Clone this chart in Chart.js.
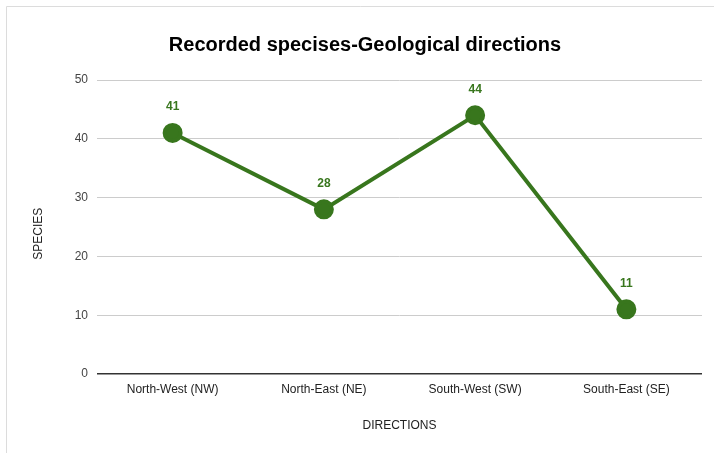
<!DOCTYPE html>
<html>
<head>
<meta charset="utf-8">
<script src="https://cdn.jsdelivr.net/npm/chart.js@4"></script>
<style>
  html, body { margin: 0; padding: 0; background: #fff; }
  #wrap { width: 714px; height: 453px; }
</style>
</head>
<body>
<div id="wrap"><canvas id="c" width="714" height="453"></canvas></div>
<script>
const directions = ['North-West (NW)', 'North-East (NE)', 'South-West (SW)', 'South-East (SE)'];
const speciesCounts = [41, 28, 44, 11];
const yTicks = [0, 10, 20, 30, 40, 50];

const green = '#38761d';
const font = '"Liberation Sans", Arial, sans-serif';

// Light frame around the card and white background
const framePlugin = {
  id: 'frame',
  beforeDraw(chart) {
    const ctx = chart.ctx;
    ctx.save();
    ctx.fillStyle = '#fff';
    ctx.fillRect(0, 0, chart.width, chart.height);
    ctx.strokeStyle = '#dcdcdc';
    ctx.lineWidth = 1;
    ctx.beginPath();
    ctx.moveTo(6.5, chart.height);
    ctx.lineTo(6.5, 6.5);
    ctx.lineTo(chart.width, 6.5);
    ctx.stroke();
    ctx.restore();
  }
};

// Value labels above each point
const valueLabels = {
  id: 'valueLabels',
  afterDatasetsDraw(chart) {
    const ctx = chart.ctx;
    const meta = chart.getDatasetMeta(0);
    ctx.save();
    ctx.font = 'bold 12px ' + font;
    ctx.fillStyle = green;
    ctx.textAlign = 'center';
    ctx.textBaseline = 'middle';
    meta.data.forEach((pt, i) => {
      ctx.fillText(String(speciesCounts[i]), pt.x, pt.y - 26);
    });
    ctx.restore();
  }
};

new Chart(document.getElementById('c'), {
  type: 'line',
  data: {
    labels: directions,
    datasets: [{
      data: speciesCounts,
      borderColor: green,
      backgroundColor: green,
      borderWidth: 4,
      pointRadius: 8,
      pointHoverRadius: 8,
      pointBackgroundColor: green,
      pointBorderColor: green,
      tension: 0
    }]
  },
  options: {
    responsive: false,
    animation: false,
    layout: { padding: { top: 33, left: 27, right: 11, bottom: 12 } },
    plugins: {
      legend: { display: false },
      tooltip: { enabled: false },
      title: {
        display: true,
        text: 'Recorded specises-Geological directions',
        color: '#000',
        font: { family: font, size: 20, weight: 'bold' },
        padding: { top: 0, bottom: 23 }
      }
    },
    scales: {
      x: {
        offset: true,
        grid: { display: false, drawTicks: false, offset: true },
        border: { display: false },
        ticks: { color: '#222', font: { family: font, size: 12 }, padding: 8, maxRotation: 0 },
        title: {
          display: true,
          text: 'DIRECTIONS',
          color: '#222',
          font: { family: font, size: 12 },
          padding: { top: 15, bottom: 8 }
        },
        afterFit(scale) { scale.height = 67; }
      },
      y: {
        min: 0,
        max: 50,
        afterBuildTicks(scale) { scale.ticks = yTicks.map(v => ({ value: v })); },
        grid: {
          drawTicks: false,
          color: ctx => ctx.tick && ctx.tick.value === 0 ? '#333' : '#cccccc',
          lineWidth: ctx => ctx.tick && ctx.tick.value === 0 ? 1.5 : 1
        },
        border: { display: false },
        ticks: { color: '#444', font: { family: font, size: 12 }, padding: 9 },
        title: {
          display: true,
          // trailing spaces nudge the rotated title slightly below the axis midpoint
          text: 'SPECIES    ',
          color: '#222',
          font: { family: font, size: 12 },
          padding: { bottom: 0 }
        },
        afterFit(scale) { scale.width = 70; }
      }
    }
  },
  plugins: [framePlugin, valueLabels]
});
</script>
</body>
</html>
